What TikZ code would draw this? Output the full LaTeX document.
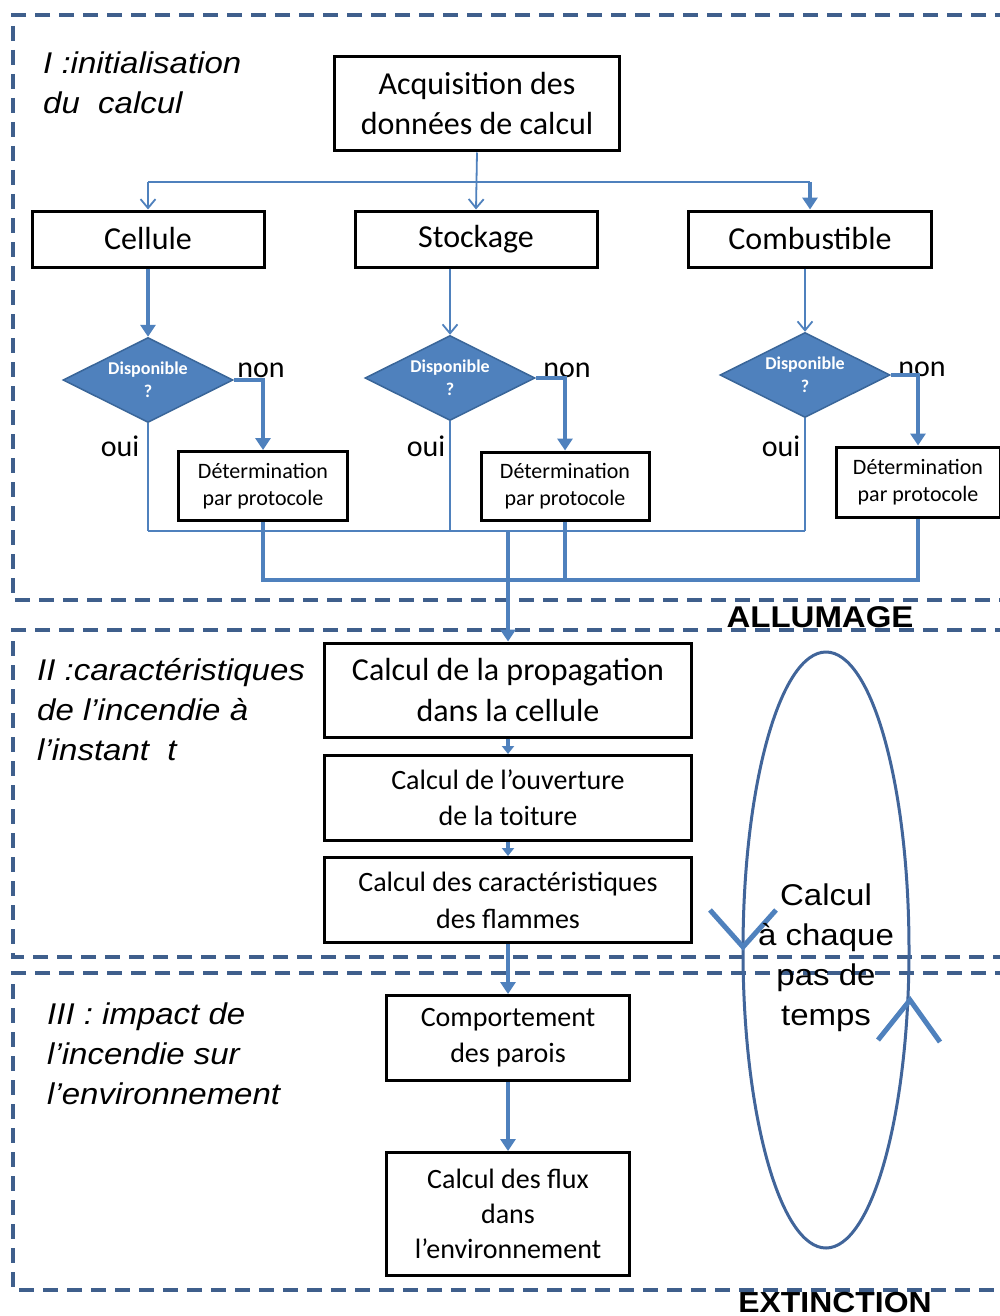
\documentclass[tikz,border=0pt]{standalone}
\usepackage{fontspec}
\setmainfont{Carlito}
\newfontfamily\arl[FakeStretch=1.1]{Liberation Sans}
\usetikzlibrary{arrows.meta,shapes.geometric}
\definecolor{lineblue}{HTML}{4F81BD}
\definecolor{dashblue}{HTML}{3F5F8C}
\definecolor{diafill}{HTML}{4F81BD}
\definecolor{diaedge}{HTML}{3A6699}
\definecolor{loopblue}{HTML}{41659A}
\newcommand\fsz[2]{\fontsize{#1}{#2}\selectfont}
\begin{document}
\begin{tikzpicture}[x=1pt,y=-1pt,
  box/.style={draw=black,line width=3pt,align=center,inner sep=0pt,fill=white},
  dia/.style={diamond,shape aspect=2,fill=diafill,draw=diaedge,line width=1.5pt,inner sep=0pt,
    minimum width=170pt,minimum height=85pt,text=white,align=center},
  zone/.style={draw=dashblue,line width=4pt,dash pattern=on 15pt off 9pt},
  lthin/.style={draw=lineblue,line width=1.8pt},
  lmid/.style={draw=lineblue,line width=2.8pt},
  lthick/.style={draw=lineblue,line width=4pt},
  openarr/.style={-{Straight Barb[length=9pt,width=15pt,line width=1.8pt]}},
  fillarr/.style={-{Triangle[length=12pt,width=15pt]}},
  smallarr/.style={-{Triangle[length=8pt,width=12pt]}},
  lab/.style={font=\arl\itshape\fsz{30}{40},align=left,anchor=west,inner sep=0pt},
  yn/.style={font=\fsz{30}{32},inner sep=0pt}
]
\useasboundingbox (0,0) rectangle (1000,1316);
\fill[white] (0,0) rectangle (1000,1316);

% zones
\draw[zone] (1010,15) -- (13,15) -- (13,600) -- (1010,600);
\draw[zone] (1010,630) -- (13,630) -- (13,957) -- (1010,957);
\draw[zone] (1010,973) -- (13,973) -- (13,1290) -- (1010,1290);

% section labels
\node[lab] (labI) at (43,83) {I :initialisation\\du\ \ calcul};
\node[lab] (labII) at (37,710) {II :caractéristiques\\de l’incendie à\\l’instant\ \ t};
\node[lab] (labIII) at (47,1054) {III : impact de\\l’incendie sur\\l’environnement};
\node[font=\arl\bfseries\fsz{30}{32},inner sep=0pt] (allu) at (820,617) {ALLUMAGE};
\node[font=\arl\bfseries\fsz{29}{32},inner sep=0pt] (exti) at (835,1302) {EXTINCTION};

% boxes
\node[box,minimum width=285pt,minimum height=94pt,font=\fsz{32}{40}] (acq) at (477,104) {Acquisition des\\données de calcul};
\node[box,minimum width=232pt,minimum height=56pt,font=\fsz{32}{38}] (cell) at (148,239) {Cellule};
\node[box,minimum width=242pt,minimum height=56pt,font=\fsz{32}{38}] (stock) at (476,239) {Stockage};
\node[box,minimum width=243pt,minimum height=56pt,font=\fsz{32}{38}] (comb) at (810,239) {Combustible};

\node[dia,font=\bfseries\fsz{18}{23}] (d1) at (148,380) {Disponible\\?};
\node[dia,font=\bfseries\fsz{18}{23}] (d2) at (450,378) {Disponible\\?};
\node[dia,font=\bfseries\fsz{18}{23}] (d3) at (805,375) {Disponible\\?};

\node[box,minimum width=169pt,minimum height=69pt,font=\fsz{22}{27}] (det1) at (263,486) {Détermination\\par protocole};
\node[box,minimum width=168pt,minimum height=68pt,font=\fsz{22}{27}] (det2) at (565,486) {Détermination\\par protocole};
\node[box,minimum width=164pt,minimum height=70pt,font=\fsz{22}{27}] (det3) at (918,482) {Détermination\\par protocole};

\node[yn] (non1) at (261,370) {non};
\node[yn] (non2) at (567,370) {non};
\node[yn] (non3) at (922,369) {non};
\node[yn] (oui1) at (120,446) {oui};
\node[yn] (oui2) at (426,446) {oui};
\node[yn] (oui3) at (781,446) {oui};

\node[box,minimum width=367pt,minimum height=94pt,font=\fsz{32}{40}] (prop) at (508,690) {Calcul de la propagation\\dans la cellule};
\node[box,minimum width=367pt,minimum height=85pt,font=\fsz{28}{36}] (ouv) at (508,798) {Calcul de l’ouverture\\de la toiture};
\node[box,minimum width=367pt,minimum height=85pt,font=\fsz{28}{37}] (cara) at (508,900) {Calcul des caractéristiques\\des flammes};
\node[box,minimum width=243pt,minimum height=85pt,font=\fsz{28}{36}] (comp) at (508,1038) {Comportement\\des parois};
\node[box,minimum width=243pt,minimum height=123pt,font=\fsz{28}{35}] (flux) at (508,1214) {Calcul des flux\\dans\\l’environnement};

% connectors
\coordinate (bus) at (0,182);
\coordinate (ob) at (0,531);
\coordinate (pb) at (0,580);
\draw[lthin,openarr] (acq.south) -- (stock.north);
\draw[lmid] (cell.north |- bus) -- (comb.north |- bus);
\draw[lthin,openarr] (cell.north |- bus) -- (cell.north);
\draw[lthick,fillarr] (comb.north |- bus) -- (comb.north);

\draw[lthick,fillarr] (cell.south) -- (d1.north);
\draw[lthin,openarr] (d2.north |- stock.south) -- (d2.north);
\draw[lthin,openarr] (d3.north |- comb.south) -- (d3.north);

\draw[lthick,fillarr] (d1.east) -| (det1.north);
\draw[lthick,fillarr] (d2.east) -| (det2.north);
\draw[lthick,fillarr] (d3.east) -| (det3.north);

\draw[lthin] (d1.south) -- (d1.south |- ob);
\draw[lthin] (d2.south) -- (d2.south |- ob);
\draw[lthin] (d3.south) -- (d3.south |- ob);
\draw[lmid] (d1.south |- ob) -- (d3.south |- ob);

\draw[lthick] (det1.south) |- (det3.south |- pb) -- (det3.south);
\draw[lthick] (det2.south) -- (det2.south |- pb);

\draw[lthick,fillarr] (prop.north |- ob) -- (prop.north);
\draw[lthick,smallarr] (prop.south) -- (ouv.north);
\draw[lthick,smallarr] (ouv.south) -- (cara.north);
\draw[lthick,fillarr] (cara.south) -- (comp.north);
\draw[lthick,fillarr] (comp.south) -- (flux.north);

% loop
\draw[loopblue,line width=3pt] (826,950) ellipse [x radius=83, y radius=298];
\draw[lineblue,line width=5pt] (710,910) -- (743,947) -- (776,910);
\draw[lineblue,line width=5pt] (878,1040) -- (910,1000) -- (940,1042);
\node[font=\arl\fsz{30}{40},align=center,inner sep=0pt] (loopt) at (826,958) {Calcul\\à chaque\\pas de\\temps};
\end{tikzpicture}
\end{document}
